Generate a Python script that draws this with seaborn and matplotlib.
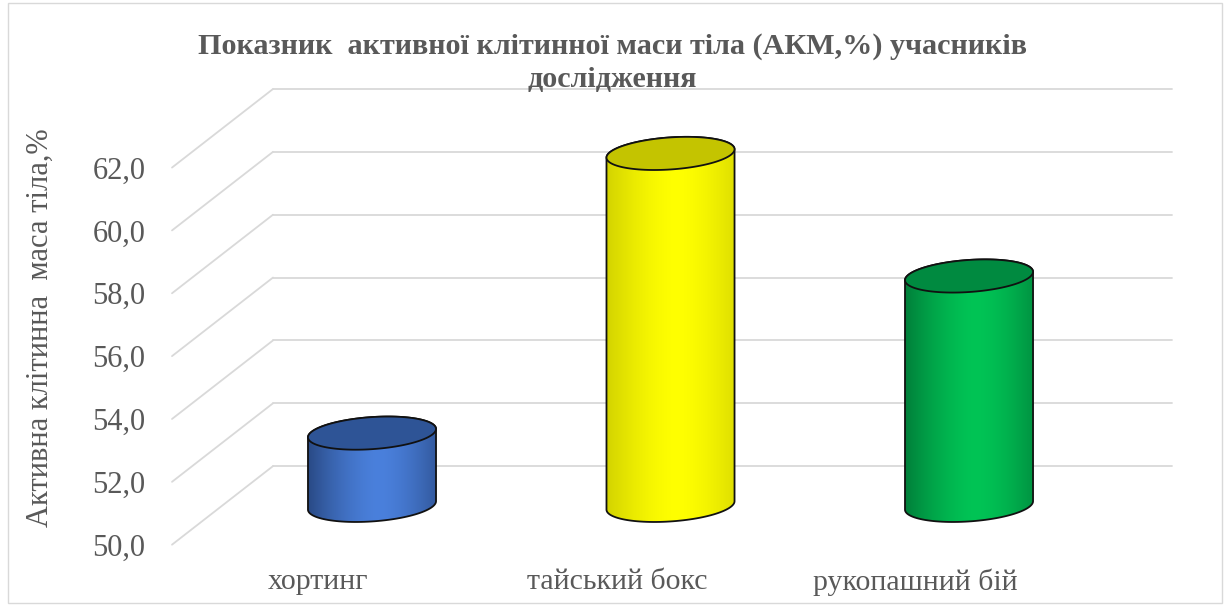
import numpy as np
import pandas as pd
import matplotlib
matplotlib.use("Agg")
import matplotlib.pyplot as plt
from matplotlib.patches import Polygon, Rectangle
import seaborn as sns

# chart data
sports = ["хортинг", "тайський бокс", "рукопашний бій"]
akm = [52.3, 61.2, 57.3]
y_ticks = [50, 52, 54, 56, 58, 60, 62]
y_tick_labels = ["50,0", "52,0", "54,0", "56,0", "58,0", "60,0", "62,0"]
title = "Показник  активної клітинної маси тіла (АКМ,%) учасників\nдослідження"
y_title = "Активна клітинна  маса тіла,%"

# cylinder colours: (dark edge, light centre, top)
cyl_colors = [("#27467f", "#4a80dc", "#2e5496"),
              ("#cfcf00", "#ffff00", "#c4c400"),
              ("#007a38", "#00c455", "#008a40")]

df = pd.DataFrame({"sport": sports, "akm": akm})

sns.set_theme(style="white")
plt.rcParams["font.family"] = ["Liberation Serif", "DejaVu Serif"]

W, H = 1229, 605
fig = plt.figure(figsize=(W / 100, H / 100), dpi=100)
# axes placed in pixel terms of the reference
ax_l, ax_r, ax_t, ax_b = 172, 1172, 89, 545
ax = fig.add_axes([ax_l / W, 1 - ax_b / H, (ax_r - ax_l) / W, (ax_b - ax_t) / H])

depth = 1.25          # half of the 3d depth, in value units
xmin, xmax = -0.67, 2.68
ymin, ymax = 50 - depth - 0.01, 62 + depth
ax.set_xlim(xmin, xmax)
ax.set_ylim(ymin, ymax)
px_x = (ax_r - ax_l) / (xmax - xmin)
px_y = (ax_b - ax_t) / (ymax - ymin)
back_dx = 101 / px_x

# perspective grid: diagonal on the side wall + horizontal line on back wall
for v in y_ticks:
    ax.plot([xmin, xmin + back_dx], [v - depth, v + depth], color="#d9d9d9", lw=1.3, zorder=1, clip_on=False)
    ax.plot([xmin + back_dx, xmax], [v + depth, v + depth], color="#d9d9d9", lw=1.3, zorder=1, clip_on=False)

sns.barplot(data=df, x="sport", y="akm", width=0.43, color="#4a80dc", ax=ax, zorder=2)
ax.set_xlim(xmin, xmax)
ax.set_ylim(ymin, ymax)

def ellipse_pts(cx, cy, a, b, ang, t):
    dx = a * np.cos(t) * np.cos(ang) - b * np.sin(t) * np.sin(ang)
    dy = a * np.cos(t) * np.sin(ang) + b * np.sin(t) * np.cos(ang)
    return np.column_stack([cx + dx / px_x, cy + dy / px_y])

ang = np.deg2rad(4)
b_px = 16
for i, p in enumerate(list(ax.patches)):
    # cylinder stands on the mid-depth floor (50)
    top = p.get_y() + p.get_height()
    p.set_y(50)
    p.set_height(top - 50)
    p.set_visible(False)
    x0 = p.get_x()
    w = p.get_width()
    cx = x0 + w / 2
    a_px = w * px_x / 2
    dark, light, topc = cyl_colors[i]
    up = np.linspace(0, np.pi, 60)
    low = np.linspace(np.pi, 2 * np.pi, 60)
    top_arc = ellipse_pts(cx, top, a_px, b_px, ang, up)
    bot_arc = ellipse_pts(cx, 50, a_px, b_px, ang, low)
    sil = np.vstack([top_arc, bot_arc])
    # horizontal shading of the side
    u = np.linspace(0, 1, 200)
    f = np.clip(1 - (np.abs(u - 0.55) / 0.55) ** 1.6, 0, 1)
    c0 = np.array(matplotlib.colors.to_rgb(dark))
    c1 = np.array(matplotlib.colors.to_rgb(light))
    grad = c0[None, :] + (c1 - c0)[None, :] * f[:, None]
    img = ax.imshow(grad[None, :, :], extent=[x0 - 0.01, x0 + w + 0.01, 50 - 2, top + 2],
                    aspect="auto", zorder=3, interpolation="bilinear")
    clip = Polygon(sil, closed=True, transform=ax.transData)
    img.set_clip_path(clip)
    ax.add_patch(Polygon(sil, closed=True, fill=False, edgecolor="#111111", lw=1.3, zorder=4))
    full = ellipse_pts(cx, top, a_px, b_px, ang, np.linspace(0, 2 * np.pi, 120))
    ax.add_patch(Polygon(full, closed=True, facecolor=topc, edgecolor="#111111", lw=1.3, zorder=5))

ax.set_xlim(xmin, xmax)
ax.set_ylim(ymin, ymax)

for s in ax.spines.values():
    s.set_visible(False)
ax.set_yticks([v - depth for v in y_ticks])
ax.set_yticklabels(y_tick_labels, fontsize=22, color="#595959")
ax.set_xticks([i - 0.18 for i in range(len(sports))])
ax.set_xticklabels(sports, fontsize=21.5, color="#595959")
ax.tick_params(axis="y", length=0, pad=19)
ax.tick_params(axis="x", length=0, pad=17)
ax.set_xlabel("")
ax.set_ylabel("")

fig.text(40 / W, 1 - 328 / H, y_title, rotation=90, ha="center", va="center",
         fontsize=22, color="#595959")
fig.text(612 / W, 1 - 63 / H, title, ha="center", va="center", fontsize=21.7,
         fontweight="bold", color="#595959", linespacing=1.3)

fig.patches.append(Rectangle((8 / W, 2 / H), 1214 / W, 600 / H, transform=fig.transFigure,
                             fill=False, edgecolor="#d9d9d9", lw=1))

fig.savefig("out.png", dpi=100)
